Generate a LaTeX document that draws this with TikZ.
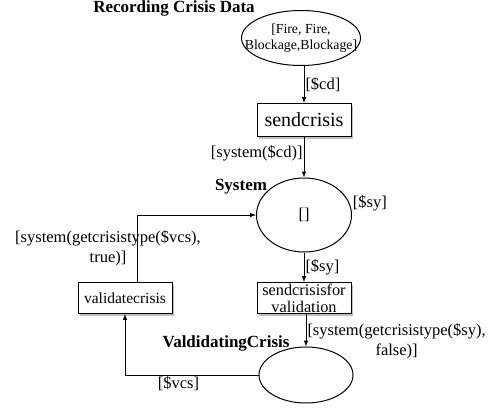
\documentclass[tikz,border=0pt]{standalone}
\usepackage{fontspec}
\setmainfont{Liberation Serif}
\usetikzlibrary{positioning, shapes.geometric, shadows}

\begin{document}
\begin{tikzpicture}[x=1pt, y=-1pt, line width=1pt,
    placenode/.style={draw, ellipse, inner sep=0pt},
    transbox/.style={draw, rectangle, fill=white, inner sep=0pt, minimum width=94pt, minimum height=31pt,
        drop shadow={shadow xshift=2pt, shadow yshift=-2pt, fill=black!50}},
    lbl/.style={font=\fontsize{16.5}{20}\selectfont, inner sep=1pt},
    title/.style={font=\fontsize{17}{18}\selectfont\bfseries}]
    \useasboundingbox (0,0) rectangle (496,410);

    % places and transitions
    \node[placenode, minimum width=119pt, minimum height=55pt, inner xsep=-15pt, align=center,
        font=\fontsize{13.8}{16}\selectfont] (cd) at (301,38) {[Fire, Fire,\\Blockage,Blockage]};
    \node[transbox, minimum height=33pt, font=\fontsize{20}{22}\selectfont] (send) at (304,120) {sendcrisis};
    \node[placenode, minimum width=95pt, minimum height=74pt, font=\fontsize{16.5}{20}\selectfont] (sys) at (304,215) {[]};
    \node[transbox, align=center, font=\fontsize{16.3}{17}\selectfont] (sendval) at (304,298) {sendcrisisfor\\validation};
    \node[transbox, font=\fontsize{15.5}{17}\selectfont] (validate) at (125,298) {validatecrisis};
    \node[placenode, minimum width=94pt, minimum height=56pt] (valc) at (306,375) {};

    % place names
    \node[title] (cdname) at (174,8) {Recording Crisis Data};
    \node[title] (sysname) at (241,187) {System};
    \node[title] (valcname) at (226,343) {ValdidatingCrisis};
    \node[lbl, right=2pt of sys.15] (syout) {[\$sy]};

    % arcs
    \draw[-latex] (send.north |- cd.south) -- (send.north) node[lbl, midway, right] {[\$cd]};
    \draw[-latex] (send) -- (sys) node[lbl, pos=0.4, left] {[system(\$cd)]};
    \draw[-latex] (sys) -- (sendval) node[lbl, midway, right] {[\$sy]};
    \draw[-latex] (sendval.south -| valc.north) -- (valc.north)
        node[lbl, pos=0.85, right, align=center] {[system(getcrisistype(\$sy),\\false)]};
    \draw[-latex] (valc.west) -| (validate.south) node[lbl, pos=0.3, below] {[\$vcs]};
    \draw[-latex] ([xshift=12pt]validate.north) |- (sys.west)
        node[lbl, pos=0.25, xshift=-29pt, align=center] {[system(getcrisistype(\$vcs),\\true)]};
\end{tikzpicture}
\end{document}
